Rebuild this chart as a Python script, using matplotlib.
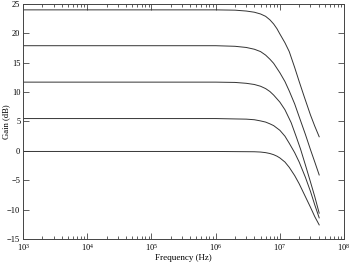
import matplotlib
matplotlib.use("Agg")
import matplotlib.pyplot as plt
from matplotlib.ticker import LogLocator, NullFormatter, LogFormatterMathtext

plt.rcParams['font.family'] = ['Liberation Serif', 'DejaVu Serif']
plt.rcParams['mathtext.fontset'] = 'stix'

# frequency (Hz) / gain (dB) pairs
freq_24 = [1e3, 1e6, 2e6, 3e6, 4e6, 5e6, 6e6, 7e6, 8e6, 9e6, 1e7, 1.2e7,
           1.4e7, 1.7e7, 2e7, 2.4e7, 3e7, 3.5e7, 4.1e7]
gain_24 = [24.0, 24.0, 23.95, 23.8, 23.6, 23.3, 22.9, 22.3, 21.6, 20.8, 19.9,
           18.4, 16.9, 14.2, 11.8, 9.2, 6.1, 4.2, 2.4]

freq_18 = [1e3, 1e6, 2e6, 3e6, 4e6, 5e6, 6e6, 7e6, 8e6, 1e7, 1.2e7, 1.4e7,
           1.7e7, 2e7, 2.5e7, 3e7, 3.5e7, 4.1e7]
gain_18 = [17.9, 17.9, 17.8, 17.6, 17.3, 16.9, 16.3, 15.6, 14.9, 13.3, 11.8,
           10.2, 8.0, 5.8, 2.8, 0.2, -1.9, -4.1]

freq_12 = [1e3, 1e6, 2e6, 3e6, 4e6, 5e6, 6e6, 7e6, 8e6, 1e7, 1.2e7, 1.5e7,
           1.8e7, 2.1e7, 2.5e7, 3e7, 3.5e7, 4.1e7]
gain_12 = [11.7, 11.7, 11.65, 11.5, 11.3, 11.0, 10.6, 10.1, 9.5, 8.3, 7.0,
           4.8, 2.4, 0.3, -2.4, -5.3, -7.8, -10.6]

freq_6 = [1e3, 1e6, 3e6, 4e6, 5e6, 6e6, 7e6, 8e6, 1e7, 1.2e7, 1.4e7, 1.7e7,
          2e7, 2.5e7, 3e7, 3.5e7, 4.1e7]
gain_6 = [5.5, 5.5, 5.4, 5.3, 5.1, 4.9, 4.6, 4.3, 3.5, 2.5, 1.3, -0.3,
          -1.9, -4.5, -6.9, -9.2, -11.4]

freq_0 = [1e3, 1e6, 4e6, 5e6, 6e6, 7e6, 8e6, 9e6, 1e7, 1.2e7, 1.4e7, 1.7e7,
          2e7, 2.5e7, 3e7, 3.5e7, 4.1e7]
gain_0 = [-0.1, -0.1, -0.15, -0.2, -0.3, -0.45, -0.65, -0.9, -1.2, -1.9,
          -2.8, -4.2, -5.6, -7.8, -9.6, -11.2, -12.6]

fig = plt.figure(figsize=(3.5, 2.66), dpi=100)
ax = fig.add_axes([0.066, 0.1015, 0.917, 0.8835])

for f, g in [(freq_24, gain_24), (freq_18, gain_18), (freq_12, gain_12),
             (freq_6, gain_6), (freq_0, gain_0)]:
    ax.plot(f, g, color='#333333', linewidth=0.7)

ax.set_xscale('log')
ax.set_xlim(1e3, 1e8)
ax.set_ylim(-15, 25)
ax.set_yticks(range(-15, 30, 5))
ax.xaxis.set_major_locator(LogLocator(base=10))
ax.xaxis.set_minor_locator(LogLocator(base=10, subs=range(2, 10)))
ax.xaxis.set_minor_formatter(NullFormatter())
ax.xaxis.set_major_formatter(LogFormatterMathtext())
ax.tick_params(which='both', direction='in', top=True, right=True,
               labelsize=6, color='#444444', width=0.6, pad=2)
ax.tick_params(which='major', length=4)
ax.tick_params(which='minor', length=2.5)
for s in ax.spines.values():
    s.set_linewidth(0.7)
    s.set_color('#444444')

ax.set_xlabel('Frequency (Hz)', fontsize=6.5, labelpad=1)
ax.set_ylabel('Gain (dB)', fontsize=6.2)
ax.yaxis.set_label_coords(-0.04, 0.5)

fig.savefig('out.png', dpi=100)
